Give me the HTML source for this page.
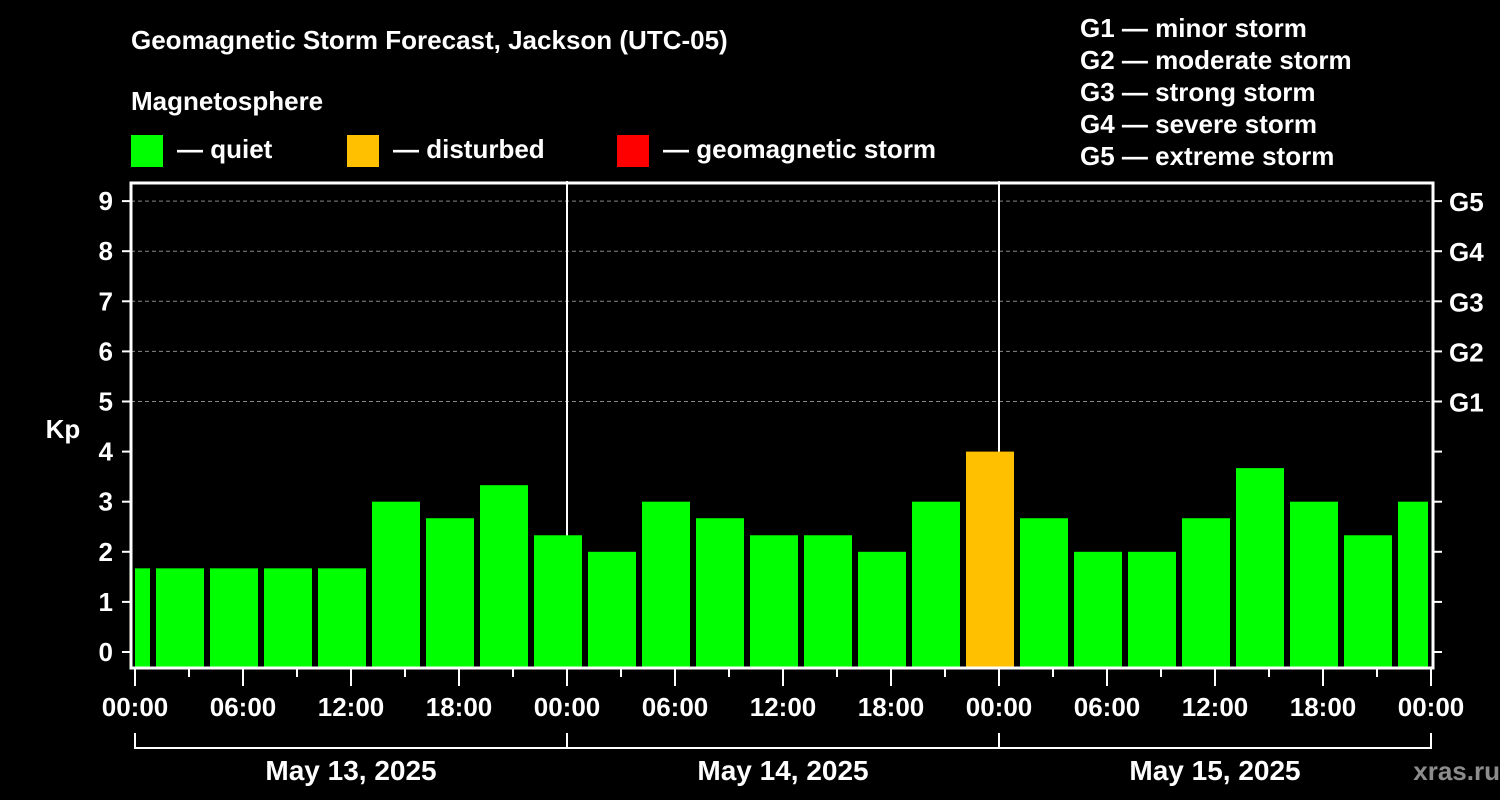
<!DOCTYPE html>
<html><head><meta charset="utf-8"><style>
html,body{margin:0;padding:0;background:#000;}
svg{display:block;font-family:"Liberation Sans",Arial,sans-serif;font-weight:bold;}
</style></head><body>
<svg id="chart" width="1500" height="800" viewBox="0 0 1500 800">
<g fill="#fff" font-size="26">
<text x="131" y="49">Geomagnetic Storm Forecast, Jackson (UTC-05)</text>
<text x="131" y="110">Magnetosphere</text>
</g>
<g font-size="26" fill="#fff">
<rect x="131" y="135" width="32" height="32" fill="#00ff00"/>
<text x="177" y="158">— quiet</text>
<rect x="347" y="135" width="32" height="32" fill="#ffc000"/>
<text x="393" y="158">— disturbed</text>
<rect x="617" y="135" width="32" height="32" fill="#ff0000"/>
<text x="663" y="158">— geomagnetic storm</text>
</g>
<g font-size="26" fill="#fff">
<text x="1080" y="37">G1 — minor storm</text>
<text x="1080" y="69">G2 — moderate storm</text>
<text x="1080" y="101">G3 — strong storm</text>
<text x="1080" y="133">G4 — severe storm</text>
<text x="1080" y="165">G5 — extreme storm</text>
</g>
<text x="63" y="438" fill="#fff" font-size="26" text-anchor="middle">Kp</text>
<text x="1500" y="780" fill="#fff" fill-opacity="0.55" font-size="26" text-anchor="end">xras.ru  </text>
<g id="plot"></g>
</svg>
<script>
const kpValues=[1.67,1.67,1.67,1.67,1.67,3,2.67,3.33,2.33,2,3,2.67,2.33,2.33,2,3,4,2.67,2,2,2.67,3.67,3,2.33,3];
const barHours=[-0.5,2.5,5.5,8.5,11.5,14.5,17.5,20.5,23.5,26.5,29.5,32.5,35.5,38.5,41.5,44.5,47.5,50.5,53.5,56.5,59.5,62.5,65.5,68.5,71.5];
const yTicks=[0,1,2,3,4,5,6,7,8,9];
const gLabels=["G1","G2","G3","G4","G5"];
const gLevels=[5,6,7,8,9];
const xTickLabels=["00:00","06:00","12:00","18:00","00:00","06:00","12:00","18:00","00:00","06:00","12:00","18:00","00:00"];
const dayLabels=["May 13, 2025","May 14, 2025","May 15, 2025"];
const L=131,R=1433,T=183,B=668;
const xs=h=>135+h*18;
const ys=v=>652-v*50.1;
const NS="http://www.w3.org/2000/svg";
const plot=document.getElementById('plot');
function mk(tag,attrs,parent){const e=document.createElementNS(NS,tag);for(const k in attrs)e.setAttribute(k,attrs[k]);(parent||plot).appendChild(e);return e;}
// grid
gLevels.forEach(v=>{const l=mk('line',{x1:L,x2:R,y1:ys(v),y2:ys(v),stroke:'#888','stroke-dasharray':'4 3','stroke-width':1});

});
// day lines
[24,48].forEach(h=>{const l=mk('line',{x1:xs(h),x2:xs(h),y1:181,y2:B,stroke:'#fff','stroke-width':2});

});
// bars
kpValues.forEach((v,i)=>{let x1=xs(barHours[i])-24,x2=xs(barHours[i])+24;x1=Math.max(x1,xs(0));x2=Math.min(x2,xs(72)-3);
const c=v>=5?'#ff0000':(v>=4?'#ffc000':'#00ff00');
const r=mk('rect',{x:x1,y:ys(v),width:x2-x1,height:B-ys(v),fill:c});

});
// frame
const f=mk('rect',{x:L,y:T,width:R-L,height:B-T,fill:'none',stroke:'#fff','stroke-width':3});


// y ticks
yTicks.forEach(v=>{mk('line',{x1:L-9,x2:L,y1:ys(v),y2:ys(v),stroke:'#fff','stroke-width':2});mk('line',{x1:R,x2:R+9,y1:ys(v),y2:ys(v),stroke:'#fff','stroke-width':2});
const t=mk('text',{x:113,y:ys(v)+9,fill:'#fff','font-size':26,'text-anchor':'end'});t.textContent=v;

});
gLabels.forEach((g,i)=>{const t=mk('text',{x:1449,y:ys(gLevels[i])+10,fill:'#fff','font-size':26});t.textContent=g;

});
// x ticks
for(let h=0;h<=72;h+=3){const major=h%6===0;mk('line',{x1:xs(h),x2:xs(h),y1:B,y2:B+(major?18:9),stroke:'#fff','stroke-width':2});}
xTickLabels.forEach((s,i)=>{const t=mk('text',{x:xs(i*6),y:716,fill:'#fff','font-size':26,'text-anchor':'middle'});t.textContent=s;

});
// day bracket
mk('line',{x1:xs(0),x2:xs(72),y1:748,y2:748,stroke:'#fff','stroke-width':2});
[0,24,48,72].forEach(h=>mk('line',{x1:xs(h),x2:xs(h),y1:733,y2:749,stroke:'#fff','stroke-width':2}));
dayLabels.forEach((s,i)=>{const t=mk('text',{x:xs(i*24+12),y:780,fill:'#fff','font-size':28,'text-anchor':'middle'});t.textContent=s;

});
</script>
</body></html>
